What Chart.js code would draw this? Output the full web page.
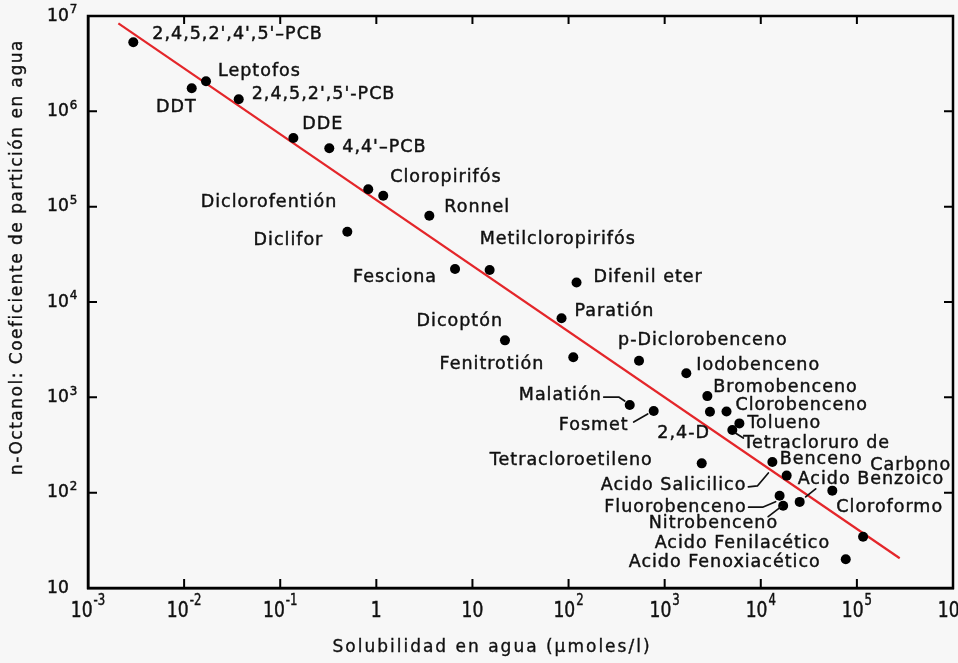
<!DOCTYPE html>
<html><head><meta charset="utf-8">
<script src="https://cdn.jsdelivr.net/npm/chart.js@4/dist/chart.umd.min.js"></script>
<style>html,body{margin:0;padding:0;background:#f7f7f7;overflow:hidden}#wrap{width:958px;height:663px;position:relative}</style>
</head><body><div id="wrap"><canvas id="c" width="958" height="663"></canvas></div>
<script>
// ---- data ----
const compounds = ["2,4,5,2',4',5'–PCB","DDT","Leptofos","2,4,5,2',5'-PCB","DDE","4,4'–PCB","Diclorofentión","Cloropirifós","Ronnel","Diclifor","Fesciona","Metilcloropirifós","Difenil eter","Paratión","Dicoptón","Fenitrotión","p-Diclorobenceno","Iodobenceno","Bromobenceno","Malatión","Fosmet","2,4-D","Clorobenceno","Tolueno","Tetracloruro de Carbono","Tetracloroetileno","Acido Salicilico","Benceno","Acido Benzoico","Cloroformo","Fluorobenceno","Nitrobenceno","Acido Fenilacético","Acido Fenoxiacético"];
const solubility = [2.96e-3,0.0120,0.0169,0.0370,0.137,0.324,0.824,1.18,3.56,0.499,6.59,15.1,121,84.5,21.8,112,541,1680,2780,433,769,2960,4400,5990,5060,2430,1.32e4,1.86e4,2.54e4,5.55e4,1.57e4,1.71e4,1.16e5,7.66e4];
const partitionCoef = [5.30e6,1.75e6,2.07e6,1.34e6,5.25e5,4.10e5,1.52e5,1.30e5,8.04e4,5.46e4,2.22e4,2.17e4,1.60e4,6.75e3,3.96e3,2.63e3,2.42e3,1.79e3,1.03e3,830,719,707,710,533,454,203,210,151,80,105,93,73,34.5,20.0];
const fitLineX = [2.07e-3, 2.79e5];
const fitLineY = [8.38e6, 20.5];
const xTickValues = [1e-3,1e-2,1e-1,1,10,1e2,1e3,1e4,1e5,1e6];
const xTickLabels = [["10","-3"],["10","-2"],["10","-1"],["1",""],["10",""],["10","2"],["10","3"],["10","4"],["10","5"],["10","6"]];
const yTickValues = [10,1e2,1e3,1e4,1e5,1e6,1e7];
const yTickLabels = [["10",""],["10","2"],["10","3"],["10","4"],["10","5"],["10","6"],["10","7"]];
const xTitle = "Solubilidad en agua (µmoles/l)";
const yTitle = "n-Octanol: Coeficiente de partición en agua";

// ---- label placement (pixel offsets from each point; layout only) ----
const labelLayout = [
 {a:'left',dx:19,dy:-8},
 {a:'right',dx:5,dy:19},
 {a:'left',dx:12,dy:-10},
 {a:'left',dx:13,dy:-5},
 {a:'left',dx:9,dy:-14},
 {a:'left',dx:13,dy:-1},
 {a:'right',dx:-31,dy:13},
 {a:'left',dx:7,dy:-18},
 {a:'left',dx:15,dy:-8},
 {a:'right',dx:-24,dy:9},
 {a:'right',dx:-18,dy:8},
 {a:'left',dx:-10,dy:-30},
 {a:'left',dx:17,dy:-5},
 {a:'left',dx:13,dy:-7},
 {a:'right',dx:-2,dy:-19},
 {a:'right',dx:-29,dy:7},
 {a:'left',dx:-21,dy:-20},
 {a:'left',dx:10,dy:-8},
 {a:'left',dx:6,dy:-9},
 {a:'right',dx:-28,dy:-10,lead:[[-26,-8],[-11,-8],[-5,-4]]},
 {a:'right',dx:-25,dy:14,lead:[[-20,11],[-6,3]]},
 {a:'right',dx:0,dy:22},
 {a:'left',dx:9,dy:-6},
 {a:'left',dx:8,dy:0},
 {parts:[["Tetracloruro de",11,13],["Carbono",138,35]],lead:[[11,8],[3,3]]},
 {a:'right',dx:-49,dy:-3},
 {a:'right',dx:-26,dy:24,lead:[[-24,25],[-15,24],[-4,11]]},
 {a:'left',dx:-7,dy:-16},
 {a:'left',dx:-2,dy:-22,lead:[[16,-13],[6,-5]]},
 {a:'left',dx:4,dy:17},
 {a:'right',dx:-33,dy:11.5,lead:[[-31,11.5],[-17,11.5],[-4,6]]},
 {a:'right',dx:-5,dy:17.5,lead:[[-15,11],[-2,1]]},
 {a:'right',dx:-33,dy:7},
 {a:'right',dx:-25,dy:3}
];

const FONT = '"DejaVu Sans", sans-serif';
const INK = '#111';
function spacing(ctx, s){ if ('letterSpacing' in ctx) ctx.letterSpacing = s + 'px'; }

function hasFont(ctx, name){
  ctx.font = '40px monospace'; const a = ctx.measureText('1010abcMW').width;
  ctx.font = '40px "' + name + '", monospace'; const b = ctx.measureText('1010abcMW').width;
  return Math.abs(a - b) > 0.5;
}

// draws a "10^n" style label; sx = horizontal squeeze
function drawPow(ctx, base, exp, x, y, align, raise, bFont, eFont, sx){
  ctx.save();
  ctx.font = bFont; spacing(ctx,0);
  const bw = ctx.measureText(base).width * sx;
  ctx.font = eFont;
  const ew = exp ? ctx.measureText(exp).width * sx + 1 : 0;
  const start = align === 'center' ? x - (bw + ew) / 2 : x;
  ctx.textAlign = 'left'; ctx.textBaseline = 'middle';
  ctx.translate(start, y); ctx.scale(sx, 1);
  ctx.font = bFont; ctx.fillText(base, 0, 0); ctx.strokeText(base, 0, 0);
  if (exp) { ctx.font = eFont; ctx.fillText(exp, (bw + 1) / sx, -raise); ctx.strokeText(exp, (bw + 1) / sx, -raise); }
  ctx.restore();
}

const annotate = {
  id: 'annotate',
  beforeDraw(chart){
    const ctx = chart.ctx; ctx.save(); ctx.fillStyle = '#f7f7f7';
    ctx.fillRect(0,0,chart.width,chart.height); ctx.restore();
  },
  afterDatasetsDraw(chart){
    const ctx = chart.ctx;
    const meta = chart.getDatasetMeta(0);
    ctx.save();
    ctx.fillStyle = INK; ctx.strokeStyle = INK;
    ctx.font = '17.5px ' + FONT; spacing(ctx, 1);
    ctx.textBaseline = 'middle';
    meta.data.forEach((el, i) => {
      const L = labelLayout[i]; const px = el.x, py = el.y;
      ctx.lineWidth = 0.45;
      if (L.parts) {
        ctx.textAlign = 'left';
        L.parts.forEach(p => { ctx.fillText(p[0], px + p[1], py + p[2]); ctx.strokeText(p[0], px + p[1], py + p[2]); });
      } else {
        ctx.textAlign = L.a;
        ctx.fillText(compounds[i], px + L.dx, py + L.dy);
        ctx.strokeText(compounds[i], px + L.dx, py + L.dy);
      }
      if (L.lead) {
        ctx.lineWidth = 1.7; ctx.lineJoin = 'round'; ctx.lineCap = 'round';
        ctx.beginPath();
        L.lead.forEach((q, k) => k ? ctx.lineTo(px + q[0], py + q[1]) : ctx.moveTo(px + q[0], py + q[1]));
        ctx.stroke();
      }
    });
    ctx.restore();
  },
  afterDraw(chart){
    const ctx = chart.ctx; const a = chart.chartArea;
    const xs = chart.scales.x, ys = chart.scales.y;
    ctx.save();
    ctx.strokeStyle = '#000'; ctx.lineWidth = 2.5;
    ctx.strokeRect(a.left, a.top, a.right - a.left, a.bottom - a.top);
    ctx.lineWidth = 2;
    ctx.beginPath();
    xTickValues.forEach(v => {
      const x = xs.getPixelForValue(v);
      ctx.moveTo(x, a.bottom); ctx.lineTo(x, a.bottom - 9);
      ctx.moveTo(x, a.top); ctx.lineTo(x, a.top + 8);
    });
    yTickValues.forEach(v => {
      const y = ys.getPixelForValue(v);
      ctx.moveTo(a.left, y); ctx.lineTo(a.left + 9, y);
      ctx.moveTo(a.right, y); ctx.lineTo(a.right - 9, y);
    });
    ctx.stroke();
    ctx.fillStyle = INK; ctx.strokeStyle = INK; ctx.lineWidth = 0.5;
    const narrow = hasFont(ctx, 'Liberation Sans Narrow');
    const xb = narrow ? '22px "Liberation Sans Narrow"' : '22px ' + FONT;
    const xe = narrow ? '15px "Liberation Sans Narrow"' : '15px ' + FONT;
    const xsx = narrow ? 1 : 0.78;
    xTickValues.forEach((v, i) => drawPow(ctx, xTickLabels[i][0], xTickLabels[i][1], xs.getPixelForValue(v), a.bottom + 23, 'center', 10, xb, xe, xsx));
    yTickValues.forEach((v, i) => drawPow(ctx, yTickLabels[i][0], yTickLabels[i][1], 47, ys.getPixelForValue(v), 'left', 6, '18px ' + FONT, '12.5px ' + FONT, 0.95));
    ctx.font = '17px ' + FONT; spacing(ctx, 2);
    ctx.textAlign = 'center'; ctx.textBaseline = 'middle';
    ctx.lineWidth = 0.35;
    ctx.fillText(xTitle, 492, 648); ctx.strokeText(xTitle, 492, 648);
    ctx.translate(18, 257); ctx.rotate(-Math.PI/2);
    spacing(ctx, 1.5);
    ctx.fillText(yTitle, 0, 0); ctx.strokeText(yTitle, 0, 0);
    ctx.restore();
  }
};

const points = solubility.map((s, i) => ({x: s, y: partitionCoef[i]}));
const fitLine = fitLineX.map((x, i) => ({x: x, y: fitLineY[i]}));

new Chart(document.getElementById('c'), {
  type: 'scatter',
  data: { datasets: [
    { label: 'Compuestos', data: points, pointRadius: 5, pointBackgroundColor: '#000', pointBorderWidth: 0, order: 0 },
    { type: 'line', label: 'Regresión', data: fitLine, borderColor: '#e4262a', borderWidth: 2.2, pointRadius: 0, showLine: true, fill: false, order: 1 }
  ]},
  options: {
    responsive: false, animation: false, devicePixelRatio: 1,
    layout: { padding: { left: 88, right: 5, top: 16, bottom: 75 } },
    plugins: { legend: { display: false }, tooltip: { enabled: false } },
    scales: {
      x: { type: 'logarithmic', min: 1e-3, max: 1e6,
           ticks: { display: false }, grid: { display: false, drawTicks: false },
           border: { display: true, color: '#000', width: 2.5 } },
      y: { type: 'logarithmic', min: 10, max: 1e7,
           ticks: { display: false }, grid: { display: false, drawTicks: false },
           border: { display: true, color: '#000', width: 2.5 } }
    }
  },
  plugins: [annotate]
});
</script></body></html>
